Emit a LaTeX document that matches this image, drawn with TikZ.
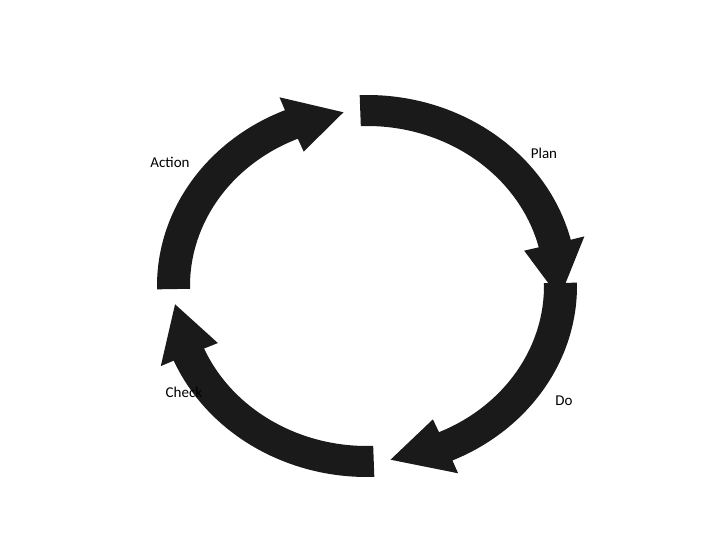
\documentclass[tikz,border=0pt]{standalone}
\usepackage{fontspec}
\setmainfont{Carlito}
\definecolor{arr}{HTML}{1A1A1A}
\newcommand{\cycarrow}[3]{%
\fill[arr] (#1:210 and 191) arc[start angle=#1, end angle=#2, x radius=210, y radius=191]
 -- (#2:224 and 205) -- (#3:193 and 175) -- (#2:162 and 146) -- (#2:177 and 160)
 arc[start angle=#2, end angle=#1, x radius=177, y radius=160] -- cycle;}
\begin{document}
\begin{tikzpicture}[x=1pt,y=1pt,lab/.style={font=\fontsize{15}{17}\selectfont}]
\useasboundingbox[fill=white] (-367,-254) rectangle (353,286);
\cycarrow{92}{14}{-4}
\cycarrow{1}{-66}{-83}
\cycarrow{-88}{-157}{-174}
\cycarrow{181}{113}{97}
\node[lab] (action) at (-197,124) {Action};
\node[lab] (plan) at (177,133) {Plan};
\node[lab] (check) at (-183,-106) {Check};
\node[lab] (do) at (197,-115) {Do};
\end{tikzpicture}
\end{document}
